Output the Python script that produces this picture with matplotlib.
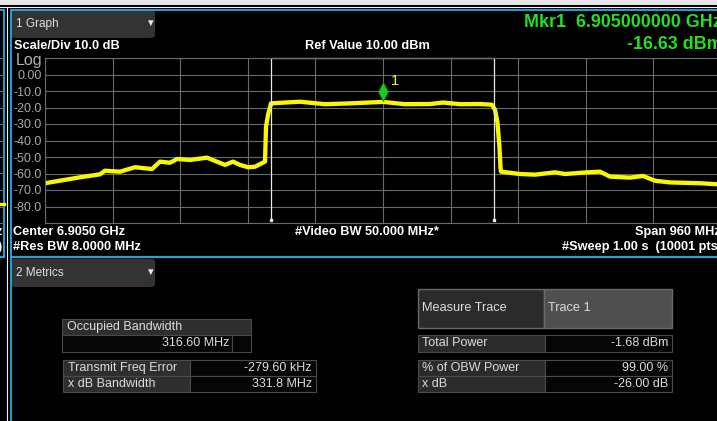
#!/usr/bin/env python3
"""Spectrum analyzer OBW screen: trace plot plus metrics tables."""

import matplotlib

matplotlib.use("Agg")
import matplotlib.pyplot as plt
from matplotlib.patches import FancyBboxPatch, Rectangle
from matplotlib.lines import Line2D
from matplotlib.path import Path

W, H = 717, 421

# --- instrument settings -------------------------------------------------
center_ghz = 6.905
span_ghz = 0.960
ref_dbm = 10.0
scale_db = 10.0

# --- trace 1 -------------------------------------------------------------
freq_ghz = [
    6.4250, 6.4747, 6.5031, 6.5102, 6.5315, 6.5528, 6.5770, 6.5883, 6.6025,
    6.6125, 6.6309, 6.6551, 6.6806, 6.6920, 6.7019, 6.7133, 6.7232, 6.7374,
    6.7389, 6.7417, 6.7459, 6.7488, 6.7871, 6.8226, 6.8581, 6.9050, 6.9362,
    6.9717, 6.9902, 7.0143, 7.0427, 7.0598, 7.0641, 7.0674, 7.0702, 7.0721,
    7.0726, 7.0995, 7.1208, 7.1493, 7.1635, 7.1947, 7.2132, 7.2274, 7.2558,
    7.2742, 7.2913, 7.3126, 7.3552, 7.3793, 7.3850,
]
level_dbm = [
    -65.9, -62.3, -60.5, -58.3, -58.9, -56.2, -57.3, -52.8, -53.5,
    -51.2, -51.8, -50.4, -54.8, -52.8, -54.8, -56.2, -55.9, -52.8,
    -31.6, -24.5, -17.5, -17.4, -16.5, -18.0, -17.5, -16.6, -18.0,
    -17.9, -17.0, -18.0, -17.9, -18.3, -21.5, -28.6, -42.7, -57.9,
    -58.9, -60.3, -60.7, -59.3, -60.3, -59.3, -58.9, -61.9, -62.5,
    -61.5, -64.4, -65.4, -65.9, -66.5, -66.6,
]

# --- marker / measurement results ----------------------------------------
mkr_freq_ghz = 6.905
mkr_level_dbm = -16.63
obw_mhz = 316.60
freq_err_khz = -279.60
xdb_bw_mhz = 331.8

obw_rows = ["Occupied Bandwidth"]
obw_vals = ["316.60 MHz"]
left_rows = ["Transmit Freq Error", "x dB Bandwidth"]
left_vals = ["-279.60 kHz", "331.8 MHz"]
power_rows = ["Total Power"]
power_vals = ["-1.68 dBm"]
right_rows = ["% of OBW Power", "x dB"]
right_vals = ["99.00 %", "-26.00 dB"]

FONT = ["Liberation Sans", "DejaVu Sans"]
plt.rcParams["font.family"] = FONT

BLUE = "#2a9fd8"
GRID = "#6a6a6a"
TXT = "#dcdcdc"
GREEN = "#22e022"
YELLOW = "#f8f800"
BOLD = 9.2


def fx(x):
    return x / W


def fy(y):
    return 1 - y / H


def box(fig, x0, y0, x1, y1, fc, ec="none", lw=1.0):
    fig.add_artist(Rectangle((fx(x0), fy(y1)), (x1 - x0) / W, (y1 - y0) / H,
                             transform=fig.transFigure, facecolor=fc,
                             edgecolor=ec, linewidth=lw))


def hline(fig, x0, x1, y, color, lw=1.0):
    fig.add_artist(Line2D([fx(x0), fx(x1)], [fy(y), fy(y)], transform=fig.transFigure,
                          color=color, linewidth=lw))


def vline(fig, x, y0, y1, color, lw=1.0):
    fig.add_artist(Line2D([fx(x), fx(x)], [fy(y0), fy(y1)], transform=fig.transFigure,
                          color=color, linewidth=lw))


def label(fig, x, y, s, **kw):
    kw.setdefault("color", TXT)
    kw.setdefault("fontsize", 9)
    kw.setdefault("va", "center")
    fig.text(fx(x), fy(y), s, **kw)


def dropdown(fig, y0, title):
    fig.add_artist(FancyBboxPatch((fx(11), fy(y0 + 28)), 144 / W, 28 / H,
                                  boxstyle="round,pad=0,rounding_size=0.006",
                                  transform=fig.transFigure, facecolor="#333333",
                                  edgecolor="none"))
    label(fig, 16, y0 + 14, title, fontsize=8.5, color="#e0e0e0")
    label(fig, 150, y0 + 13, "\u25bc", fontsize=7, color="#e8e8e8", ha="center")


def table(fig, x0, xs, x1, y0, rh, rows, vals, hdr="#2e2e2e"):
    for i, (r, v) in enumerate(zip(rows, vals)):
        ya = y0 + i * rh
        box(fig, x0, ya, xs, ya + rh, hdr, "#4a4a4a", 0.8)
        box(fig, xs, ya, x1, ya + rh, "#050505", "#4a4a4a", 0.8)
        label(fig, x0 + 5, ya + rh / 2, r)
        label(fig, x1 - 4, ya + rh / 2, v, ha="right")


def main():
    fig = plt.figure(figsize=(W / 100, H / 100), dpi=100, facecolor="black")

    # window chrome
    box(fig, 0, 0, W, 4.5, "#e6e6e6")
    hline(fig, 0, W, 7.3, "#f0f0f0", 0.8)
    vline(fig, 7.3, 7, H, "#f0f0f0", 0.8)
    hline(fig, 11, W, 9.8, BLUE, 1.4)
    hline(fig, 0, 4, 9.8, BLUE, 1.4)
    vline(fig, 11, 9.8, H, BLUE, 1.4)
    vline(fig, 4, 9.8, 257, BLUE, 1.4)
    hline(fig, 11, W, 257, BLUE, 1.6)
    hline(fig, 0, 4, 257, BLUE, 1.6)

    # sliver of the neighbouring window on the far left
    for k in range(11):
        hline(fig, 0, 3, 58 + k * 16.5, GRID, 0.8)
    hline(fig, 0, 3.5, 204, YELLOW, 2.4)
    label(fig, -4, 232.5, "z", fontsize=BOLD, weight="bold", color="white")
    label(fig, -2, 247.5, ")", fontsize=BOLD, weight="bold", color="white")

    # graph window
    ax = fig.add_axes([fx(45), fy(223), (721 - 45) / W, (223 - 58) / H])
    ax.set_facecolor("black")
    f0 = center_ghz - span_ghz / 2
    ax.set_xlim(f0, f0 + span_ghz)
    bottom = ref_dbm - 10 * scale_db
    ax.set_ylim(bottom, ref_dbm)
    ax.set_xticks([f0 + k * span_ghz / 10 for k in range(11)])
    yt = [bottom + k * scale_db for k in range(11)]
    ax.set_yticks(yt)
    ylabels = []
    for v in yt:
        if v == 0:
            ylabels.append("0.00")
        elif v in (bottom, ref_dbm):
            ylabels.append("")
        else:
            ylabels.append(f"{v:.1f}")
    ax.set_yticklabels(ylabels)
    ax.set_xticklabels([])
    ax.tick_params(length=0, pad=2.5, labelsize=9, labelcolor="#a8a8a8")
    ax.grid(True, color=GRID, linewidth=0.8)
    for sp in ax.spines.values():
        sp.set_color(GRID)
        sp.set_linewidth(0.8)

    ax.plot(freq_ghz, level_dbm, color=YELLOW, linewidth=3.1, solid_joinstyle="round")

    # OBW bracket
    obw_c = center_ghz + freq_err_khz / 1e6
    lo = obw_c - obw_mhz / 2000
    hi = obw_c + obw_mhz / 2000
    ax.plot([lo, lo, hi, hi], [bottom + 2, ref_dbm, ref_dbm, bottom + 2],
            color="#e8e8e8", linewidth=0.9, clip_on=False)
    ax.plot([lo, hi], [bottom + 2, bottom + 2], "s", color="#e8e8e8", markersize=1.5)

    # marker 1 (diamond with its tip on the trace)
    diamond = Path([(0, 0), (-0.53, 1), (0, 2), (0.53, 1), (0, 0)],
                   [Path.MOVETO, Path.LINETO, Path.LINETO, Path.LINETO, Path.CLOSEPOLY])
    ax.plot([mkr_freq_ghz], [mkr_level_dbm + 0.6], marker=diamond, markersize=27,
            color="#1ec81e", markeredgecolor="#0f8a0f", markeredgewidth=0.6, linestyle="none")
    ax.text(mkr_freq_ghz + 0.0105, mkr_level_dbm + 10.5, "1", color=YELLOW, fontsize=10.5)

    # graph annotations
    dropdown(fig, 10, "1 Graph")
    label(fig, 14, 46, "Scale/Div 10.0 dB", fontsize=BOLD, weight="bold", color="white")
    label(fig, 16, 61, "Log", fontsize=11.5, color="#b0b0b0")
    label(fig, 305, 46, "Ref Value 10.00 dBm", fontsize=BOLD, weight="bold", color="white")
    label(fig, 524, 22.5, f"Mkr1  {mkr_freq_ghz:.9f} GHz", fontsize=12.9,
          weight="bold", color=GREEN)
    label(fig, 627, 44.5, f"{mkr_level_dbm:.2f} dBm", fontsize=12.9,
          weight="bold", color=GREEN)
    label(fig, 13, 232.5, f"Center {center_ghz:.4f} GHz", fontsize=BOLD,
          weight="bold", color="white")
    label(fig, 13, 247.5, "#Res BW 8.0000 MHz", fontsize=BOLD, weight="bold", color="white")
    label(fig, 295, 232.5, "#Video BW 50.000 MHz*", fontsize=BOLD, weight="bold", color="white")
    label(fig, 635, 232.5, f"Span {span_ghz * 1000:.0f} MHz", fontsize=BOLD,
          weight="bold", color="white")
    label(fig, 562, 247.5, "#Sweep 1.00 s  (10001 pts)", fontsize=BOLD,
          weight="bold", color="white")

    # metrics window
    dropdown(fig, 259, "2 Metrics")

    box(fig, 62, 319, 250.5, 335, "#2e2e2e", "#4a4a4a", 0.8)
    label(fig, 67, 327, obw_rows[0])
    box(fig, 62, 335, 232, 351.5, "#050505", "#4a4a4a", 0.8)
    box(fig, 232, 335, 250.5, 351.5, "#050505", "#4a4a4a", 0.8)
    label(fig, 229, 343.3, obw_vals[0], ha="right")

    table(fig, 62.5, 189.5, 316, 359.5, 16.1, left_rows, left_vals)

    box(fig, 417.5, 288.5, 543.5, 327.5, "#2b2b2b", "#6a6a6a", 1.0)
    box(fig, 543.5, 288.5, 671.5, 327.5, "#4f4f4f", "#6a6a6a", 1.0)
    label(fig, 422, 308.3, "Measure Trace", fontsize=9.2)
    label(fig, 547.5, 308.3, "Trace 1", fontsize=9.2)

    table(fig, 417.5, 545, 672, 335.2, 16.3, power_rows, power_vals, hdr="#2b2b2b")
    table(fig, 417.5, 545, 672, 359.5, 16.1, right_rows, right_vals, hdr="#2b2b2b")

    fig.savefig("out.png", dpi=100, facecolor="black")
    plt.close(fig)


if __name__ == "__main__":
    main()
